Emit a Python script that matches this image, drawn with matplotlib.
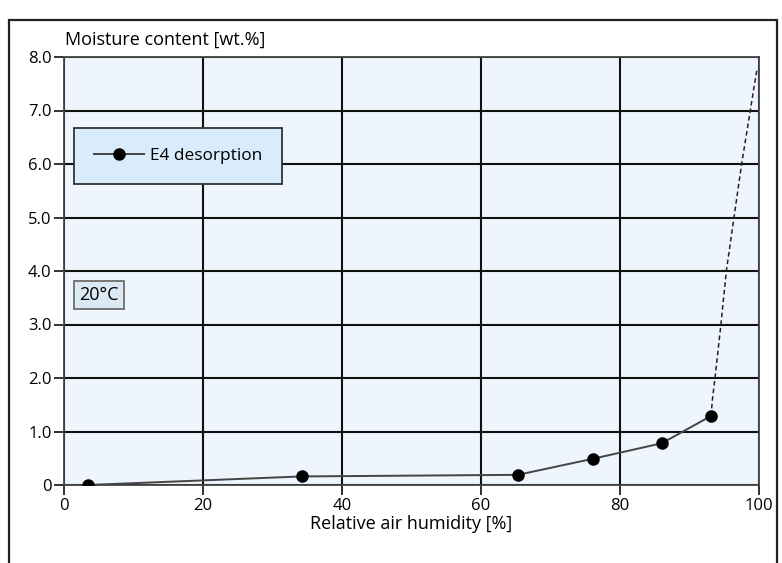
import matplotlib
matplotlib.use("Agg")
import matplotlib.pyplot as plt
from matplotlib.patches import Rectangle

# measured points (E4 desorption, 20 C)
rh = [3.4, 34.2, 65.3, 76.1, 86.0, 93.1]
moisture = [0.0, 0.16, 0.19, 0.49, 0.78, 1.29]

# dashed extrapolation
rh_ext = [93.1, 93.3, 93.67, 94.52, 95.3, 96.4, 97.5, 98.75, 99.3, 99.7]
moist_ext = [1.29, 1.6, 2.0, 3.0, 4.0, 5.0, 6.0, 7.0, 7.45, 7.76]

xticks = [0, 20, 40, 60, 80, 100]
yticks = [0, 1, 2, 3, 4, 5, 6, 7, 8]
ylabels = ["0", "1.0", "2.0", "3.0", "4.0", "5.0", "6.0", "7.0", "8.0"]

plt.rcParams["font.family"] = ["Open Sans", "DejaVu Sans"]

fig = plt.figure(figsize=(7.82, 5.63), dpi=100)
fig.patch.set_facecolor("white")

# outer frame of the figure
fig.patches.append(Rectangle((9/782, -0.05), (777-9)/782, (563-20)/563 + 0.05,
                             transform=fig.transFigure, fill=False,
                             edgecolor="#222222", linewidth=1.6))

ax = fig.add_axes([64/782, 78/563, 695/782, 428/563])
ax.set_facecolor("#eef5fc")
ax.set_xlim(0, 100)
ax.set_ylim(0, 8)
ax.set_xticks(xticks)
ax.set_yticks(yticks)
ax.set_yticklabels(ylabels)
ax.tick_params(direction="out", length=7, width=1.3, color="#222222",
               labelsize=12, pad=2)
ax.grid(True, color="#111111", linewidth=1.5)
ax.set_axisbelow(True)
for s in ax.spines.values():
    s.set_color("#444444")
    s.set_linewidth(1.3)

ax.plot(rh_ext, moist_ext, color="#222222", linestyle=(0, (3, 2)),
        linewidth=1.1, zorder=3)
ax.plot(rh, moisture, color="#444444", linewidth=1.4, marker="o",
        markersize=8, markerfacecolor="black", markeredgecolor="black",
        label="E4 desorption", zorder=4)

leg = ax.legend(loc="upper left", bbox_to_anchor=(10/695, 1 - 71/428),
                frameon=True, fancybox=False, framealpha=1,
                facecolor="#d9ecfb", edgecolor="#333333", fontsize=12.4,
                borderpad=1.15, handlelength=2.9, handletextpad=0.35,
                borderaxespad=0)
leg.get_frame().set_linewidth(1.3)

ax.text(2.2, 3.55, "20°C", fontsize=13, va="center", ha="left",
        bbox=dict(boxstyle="square,pad=0.28", facecolor="#dbe9f5",
                  edgecolor="#777777", linewidth=1.4))

fig.text(65/782, 1 - 40/563, "Moisture content [wt.%]", fontsize=13,
         ha="left", va="center")
ax.set_xlabel("Relative air humidity [%]", fontsize=13, labelpad=1)

fig.savefig("out.png", dpi=100)
